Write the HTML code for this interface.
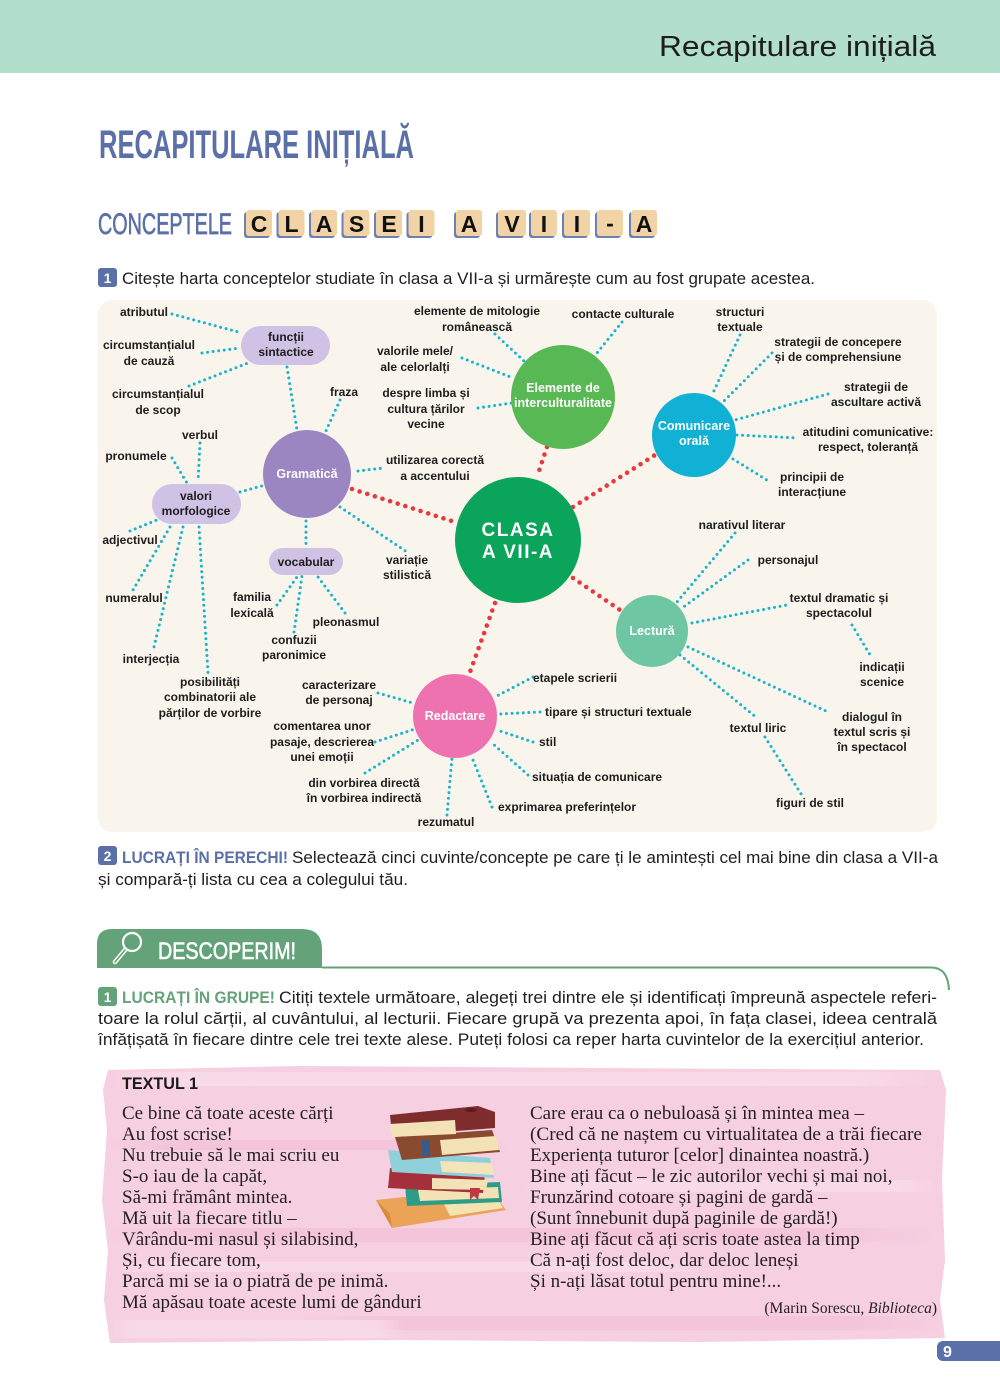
<!DOCTYPE html>
<html><head><meta charset="utf-8"><style>
html,body{margin:0;padding:0;background:#fff;}
body{width:1000px;height:1390px;overflow:hidden;}
svg{display:block;}
.lb{font-family:"Liberation Sans",sans-serif;font-weight:bold;font-size:12px;fill:#1c1c1c;}
.cw{font-family:"Liberation Sans",sans-serif;font-weight:bold;font-size:12.5px;fill:#fff;}
.sans{font-family:"Liberation Sans",sans-serif;}
.ser{font-family:"Liberation Serif",serif;font-size:19px;fill:#231f20;}
.cy{stroke:#1ab3cc;stroke-width:3;stroke-linecap:round;stroke-dasharray:0 5.6;fill:none;}
.rd{stroke:#e5393e;stroke-width:4.6;stroke-linecap:round;stroke-dasharray:0 8;fill:none;}
</style></head><body>
<svg width="1000" height="1390" viewBox="0 0 1000 1390" xmlns="http://www.w3.org/2000/svg">
<defs>
<linearGradient id="fadeL" x1="0" x2="1" y1="0" y2="0">
<stop offset="0" stop-color="#f9dde9" stop-opacity="0"/>
<stop offset="0.1" stop-color="#f9dde9" stop-opacity="0.8"/>
<stop offset="0.9" stop-color="#f9dde9" stop-opacity="0.8"/>
<stop offset="1" stop-color="#f9dde9" stop-opacity="0"/>
</linearGradient>
<linearGradient id="fadeD" x1="0" x2="1" y1="0" y2="0">
<stop offset="0" stop-color="#f1bdd5" stop-opacity="0"/>
<stop offset="0.15" stop-color="#f1bdd5" stop-opacity="0.6"/>
<stop offset="0.85" stop-color="#f1bdd5" stop-opacity="0.6"/>
<stop offset="1" stop-color="#f1bdd5" stop-opacity="0"/>
</linearGradient>
</defs>
<!-- header -->
<rect x="0" y="0" width="1000" height="73" fill="#b1dfcb"/>
<text x="659" y="56" class="sans" font-size="29" fill="#1e1e1e" textLength="277" lengthAdjust="spacingAndGlyphs">Recapitulare inițială</text>

<!-- title -->
<text x="99" y="158" class="sans" font-weight="bold" font-size="40" fill="#5b6fa8" textLength="315" lengthAdjust="spacingAndGlyphs">RECAPITULARE INIȚIALĂ</text>
<text x="98" y="234" class="sans" font-size="30" fill="#5b6fa8" stroke="#5b6fa8" stroke-width="0.7" textLength="134" lengthAdjust="spacingAndGlyphs">CONCEPTELE</text>

<!-- tiles -->
<g class="sans" font-weight="bold" font-size="23" fill="#111" text-anchor="middle">
<g transform="translate(246,210)"><rect x="-2" y="2" width="26" height="26" rx="3" fill="#6c80b4"/><rect x="0" y="0" width="26" height="26" rx="3" fill="#f2d3a6"/><text x="13" y="22">C</text></g>
<g transform="translate(278.5,210)"><rect x="-2" y="2" width="26" height="26" rx="3" fill="#6c80b4"/><rect x="0" y="0" width="26" height="26" rx="3" fill="#f2d3a6"/><text x="13" y="22">L</text></g>
<g transform="translate(311,210)"><rect x="-2" y="2" width="26" height="26" rx="3" fill="#6c80b4"/><rect x="0" y="0" width="26" height="26" rx="3" fill="#f2d3a6"/><text x="13" y="22">A</text></g>
<g transform="translate(343.5,210)"><rect x="-2" y="2" width="26" height="26" rx="3" fill="#6c80b4"/><rect x="0" y="0" width="26" height="26" rx="3" fill="#f2d3a6"/><text x="13" y="22">S</text></g>
<g transform="translate(376,210)"><rect x="-2" y="2" width="26" height="26" rx="3" fill="#6c80b4"/><rect x="0" y="0" width="26" height="26" rx="3" fill="#f2d3a6"/><text x="13" y="22">E</text></g>
<g transform="translate(408.5,210)"><rect x="-2" y="2" width="26" height="26" rx="3" fill="#6c80b4"/><rect x="0" y="0" width="26" height="26" rx="3" fill="#f2d3a6"/><text x="13" y="22">I</text></g>
<g transform="translate(456,210)"><rect x="-2" y="2" width="26" height="26" rx="3" fill="#6c80b4"/><rect x="0" y="0" width="26" height="26" rx="3" fill="#f2d3a6"/><text x="13" y="22">A</text></g>
<g transform="translate(498,210)"><rect x="-2" y="2" width="28" height="26" rx="3" fill="#6c80b4"/><rect x="0" y="0" width="28" height="26" rx="3" fill="#f2d3a6"/><text x="14" y="22">V</text></g>
<g transform="translate(531,210)"><rect x="-2" y="2" width="26" height="26" rx="3" fill="#6c80b4"/><rect x="0" y="0" width="26" height="26" rx="3" fill="#f2d3a6"/><text x="13" y="22">I</text></g>
<g transform="translate(564,210)"><rect x="-2" y="2" width="26" height="26" rx="3" fill="#6c80b4"/><rect x="0" y="0" width="26" height="26" rx="3" fill="#f2d3a6"/><text x="13" y="22">I</text></g>
<g transform="translate(597,210)"><rect x="-2" y="2" width="26" height="26" rx="3" fill="#6c80b4"/><rect x="0" y="0" width="26" height="26" rx="3" fill="#f2d3a6"/><text x="13" y="21">-</text></g>
<g transform="translate(631,210)"><rect x="-2" y="2" width="26" height="26" rx="3" fill="#6c80b4"/><rect x="0" y="0" width="26" height="26" rx="3" fill="#f2d3a6"/><text x="13" y="22">A</text></g>
</g>

<!-- task 1 -->
<rect x="98" y="268" width="19" height="19" rx="3" fill="#5b6fa8"/>
<text x="107.5" y="283" class="sans" font-weight="bold" font-size="14" fill="#fff" text-anchor="middle">1</text>
<text x="122" y="284" class="sans" font-size="17" fill="#1e1e1e" textLength="693" lengthAdjust="spacingAndGlyphs">Citește harta conceptelor studiate în clasa a VII-a și urmărește cum au fost grupate acestea.</text>

<!-- map panel -->
<rect x="98" y="300" width="839" height="532" rx="14" fill="#f9f5ed"/>

<!-- cyan connectors -->
<g class="cy">
<path d="M172,314L242,333"/><path d="M202,353L240,348"/><path d="M189,386L248,363"/>
<path d="M287,367L297,430"/><path d="M340,400L325,433"/><path d="M200,443L198,482"/>
<path d="M172,458L187,483"/><path d="M240,492L265,485"/><path d="M358,471L383,468"/>
<path d="M340,507L407,552"/><path d="M306,521L306,548"/><path d="M130,531L157,520"/>
<path d="M170,527L133,590"/><path d="M183,527L153,651"/><path d="M199,527L208,673"/>
<path d="M277,605L297,577"/><path d="M294,632L302,576"/><path d="M345,613L318,577"/>
<path d="M495,334L525,362"/><path d="M462,358L513,378"/><path d="M478,408L512,403"/>
<path d="M622,322L597,353"/><path d="M740,335L712,395"/><path d="M772,353L723,402"/>
<path d="M828,394L735,420"/><path d="M737,435L798,438"/><path d="M733,459L770,482"/>
<path d="M735,533L677,602"/><path d="M748,560L682,608"/><path d="M692,623L787,605"/>
<path d="M852,625L872,658"/><path d="M688,647L828,712"/><path d="M680,655L757,718"/>
<path d="M765,737L803,797"/><path d="M378,693L413,703"/><path d="M375,742L415,729"/>
<path d="M365,773L418,740"/><path d="M447,815L452,758"/><path d="M492,807L473,760"/>
<path d="M528,775L492,743"/><path d="M533,742L497,730"/><path d="M540,712L500,714"/>
<path d="M533,677L497,696"/>
</g>
<!-- red connectors -->
<g class="rd">
<path d="M352,489L458,523"/><path d="M547,447L537,477"/><path d="M573,507L655,455"/>
<path d="M573,578L620,610"/><path d="M495,603L470,672"/>
</g>

<!-- nodes -->
<circle cx="518" cy="540" r="63" fill="#0aa45a"/>
<circle cx="307" cy="474" r="44" fill="#9c86c2"/>
<circle cx="563" cy="397" r="52" fill="#58b853"/>
<circle cx="694" cy="435" r="42" fill="#10b1d4"/>
<circle cx="652" cy="631" r="36" fill="#6fc6a2"/>
<circle cx="455" cy="716" r="42" fill="#ef72b0"/>
<rect x="241" y="326" width="89" height="39" rx="19.5" fill="#d0c2e4"/>
<rect x="152" y="484" width="89" height="40" rx="20" fill="#d0c2e4"/>
<rect x="269" y="548" width="74" height="27" rx="13.5" fill="#d0c2e4"/>

<text x="518" y="536" class="sans" font-weight="bold" font-size="19" fill="#fff" text-anchor="middle" letter-spacing="1.5">CLASA</text>
<text x="518" y="558" class="sans" font-weight="bold" font-size="19" fill="#fff" text-anchor="middle" letter-spacing="1.5">A VII-A</text>
<g class="cw" text-anchor="middle">
<text x="307" y="478">Gramatică</text>
<text x="563" y="392">Elemente de</text>
<text x="563" y="407">interculturalitate</text>
<text x="694" y="430">Comunicare</text>
<text x="694" y="445">orală</text>
<text x="652" y="635">Lectură</text>
<text x="455" y="720">Redactare</text>
</g>
<g class="lb" text-anchor="middle">
<text x="286" y="341">funcții</text><text x="286" y="356">sintactice</text>
<text x="196" y="500">valori</text><text x="196" y="515">morfologice</text>
<text x="306" y="566">vocabular</text>

<text x="144" y="316">atributul</text>
<text x="149" y="349">circumstanțialul</text><text x="149" y="365">de cauză</text>
<text x="158" y="398">circumstanțialul</text><text x="158" y="414">de scop</text>
<text x="344" y="396">fraza</text>
<text x="200" y="439">verbul</text>
<text x="136" y="460">pronumele</text>
<text x="130" y="544">adjectivul</text>
<text x="134" y="602">numeralul</text>
<text x="151" y="663">interjecția</text>
<text x="210" y="686">posibilități</text><text x="210" y="701">combinatorii ale</text><text x="210" y="717">părților de vorbire</text>
<text x="435" y="464">utilizarea corectă</text><text x="435" y="480">a accentului</text>
<text x="407" y="564">variație</text><text x="407" y="579">stilistică</text>
<text x="252" y="601">familia</text><text x="252" y="617">lexicală</text>
<text x="294" y="644">confuzii</text><text x="294" y="659">paronimice</text>
<text x="346" y="626">pleonasmul</text>
<text x="477" y="315">elemente de mitologie</text><text x="477" y="331">românească</text>
<text x="415" y="355">valorile mele/</text><text x="415" y="371">ale celorlalți</text>
<text x="426" y="397">despre limba și</text><text x="426" y="413">cultura țărilor</text><text x="426" y="428">vecine</text>
<text x="623" y="318">contacte culturale</text>
<text x="740" y="316">structuri</text><text x="740" y="331">textuale</text>
<text x="838" y="346">strategii de concepere</text><text x="838" y="361">și de comprehensiune</text>
<text x="876" y="391">strategii de</text><text x="876" y="406">ascultare activă</text>
<text x="868" y="436">atitudini comunicative:</text><text x="868" y="451">respect, toleranță</text>
<text x="812" y="481">principii de</text><text x="812" y="496">interacțiune</text>
<text x="742" y="529">narativul literar</text>
<text x="788" y="564">personajul</text>
<text x="839" y="602">textul dramatic și</text><text x="839" y="617">spectacolul</text>
<text x="882" y="671">indicații</text><text x="882" y="686">scenice</text>
<text x="872" y="721">dialogul în</text><text x="872" y="736">textul scris și</text><text x="872" y="751">în spectacol</text>
<text x="758" y="732">textul liric</text>
<text x="810" y="807">figuri de stil</text>
<text x="339" y="689">caracterizare</text><text x="339" y="704">de personaj</text>
<text x="322" y="730">comentarea unor</text><text x="322" y="746">pasaje, descrierea</text><text x="322" y="761">unei emoții</text>
<text x="364" y="787">din vorbirea directă</text><text x="364" y="802">în vorbirea indirectă</text>
<text x="446" y="826">rezumatul</text>
</g>
<g class="lb">
<text x="498" y="811">exprimarea preferințelor</text>
<text x="532" y="781">situația de comunicare</text>
<text x="539" y="746">stil</text>
<text x="545" y="716">tipare și structuri textuale</text>
<text x="533" y="682">etapele scrierii</text>
</g>

<!-- task 2 -->
<rect x="98" y="846" width="19" height="19" rx="3" fill="#5b6fa8"/>
<text x="107.5" y="861" class="sans" font-weight="bold" font-size="14" fill="#fff" text-anchor="middle">2</text>
<text x="122" y="863" class="sans" font-weight="bold" font-size="17" fill="#5b6fa8" textLength="166" lengthAdjust="spacingAndGlyphs">LUCRAȚI ÎN PERECHI!</text>
<text x="292" y="863" class="sans" font-size="17" fill="#1e1e1e" textLength="646" lengthAdjust="spacingAndGlyphs">Selectează cinci cuvinte/concepte pe care ți le amintești cel mai bine din clasa a VII-a</text>
<text x="98" y="885" class="sans" font-size="17" fill="#1e1e1e" textLength="310" lengthAdjust="spacingAndGlyphs">și compară-ți lista cu cea a colegului tău.</text>

<!-- DESCOPERIM -->
<path d="M97,968 V944 Q97,929 112,929 H302 Q322,929 322,949 V968 Z" fill="#64a279"/>
<path d="M322,967.5 H932 Q948,968 949,990" stroke="#64a279" stroke-width="2" fill="none"/>
<circle cx="132" cy="942" r="9" fill="none" stroke="#fff" stroke-width="2.2"/>
<path d="M125,950 L115,962" stroke="#fff" stroke-width="4.5" stroke-linecap="round"/>
<path d="M125,950 L115,962" stroke="#64a279" stroke-width="1.6" stroke-linecap="round"/>
<text x="158" y="959" class="sans" font-size="24" fill="#fff" stroke="#fff" stroke-width="0.6" textLength="138" lengthAdjust="spacingAndGlyphs">DESCOPERIM!</text>

<rect x="98" y="987" width="19" height="19" rx="3" fill="#64a279"/>
<text x="107.5" y="1002" class="sans" font-weight="bold" font-size="14" fill="#fff" text-anchor="middle">1</text>
<text x="122" y="1003" class="sans" font-weight="bold" font-size="17" fill="#64a279" textLength="153" lengthAdjust="spacingAndGlyphs">LUCRAȚI ÎN GRUPE!</text>
<text x="279" y="1003" class="sans" font-size="17" fill="#1e1e1e" textLength="658" lengthAdjust="spacingAndGlyphs">Citiți textele următoare, alegeți trei dintre ele și identificați împreună aspectele referi-</text>
<text x="98" y="1024" class="sans" font-size="17" fill="#1e1e1e" textLength="839" lengthAdjust="spacingAndGlyphs">toare la rolul cărții, al cuvântului, al lecturii. Fiecare grupă va prezenta apoi, în fața clasei, ideea centrală</text>
<text x="98" y="1045" class="sans" font-size="17" fill="#1e1e1e" textLength="826" lengthAdjust="spacingAndGlyphs">înfățișată în fiecare dintre cele trei texte alese. Puteți folosi ca reper harta cuvintelor de la exercițiul anterior.</text>

<!-- pink brush background -->
<path d="M108,1070 L300,1066 L600,1068 L940,1070 L946,1090 L942,1180 L945,1260 L940,1300 L945,1338 L700,1342 L400,1340 L110,1343 L104,1300 L108,1250 L102,1200 L107,1130 L103,1090 Z" fill="#f6cfe1"/>
<rect x="106" y="1072" width="835" height="14" fill="url(#fadeL)"/>
<rect x="110" y="1140" width="400" height="10" fill="url(#fadeD)"/>
<rect x="520" y="1180" width="420" height="12" fill="url(#fadeL)"/>
<rect x="106" y="1228" width="830" height="14" fill="url(#fadeD)"/>
<rect x="108" y="1262" width="600" height="10" fill="url(#fadeL)"/>
<rect x="300" y="1316" width="640" height="14" fill="url(#fadeD)"/>
<rect x="106" y="1320" width="300" height="18" fill="url(#fadeL)"/>

<text x="122" y="1089" class="sans" font-weight="bold" font-size="17" fill="#1a1a1a" textLength="76" lengthAdjust="spacingAndGlyphs">TEXTUL 1</text>

<!-- books -->
<g>
<polygon points="376,1200 490,1188 506,1210 392,1228" fill="#eba457"/>
<polygon points="440,1196 492,1190 503,1208 450,1216" fill="#f6e3b4"/>
<polygon points="376,1200 392,1228 390,1214" fill="#d98a3e"/>
<polygon points="405,1186 500,1182 502,1202 407,1206" fill="#2f9c87"/>
<polygon points="418,1190 498,1187 499,1198 420,1201" fill="#f3e2b6"/>
<polygon points="390,1168 485,1174 483,1193 388,1188" fill="#a52f3a"/>
<polygon points="432,1178 488,1180 486,1190 432,1189" fill="#f3e2b6"/>
<polygon points="470,1188 480,1188 478,1200 474,1196 470,1200" fill="#c23844"/>
<polygon points="388,1150 490,1158 494,1178 392,1172" fill="#8fd0da"/>
<polygon points="440,1161 492,1163 494,1175 442,1172" fill="#f3e4bb"/>
<polygon points="395,1137 492,1130 500,1152 402,1160" fill="#8a4a2f"/>
<polygon points="440,1140 496,1136 499,1150 442,1155" fill="#f3e2b6"/>
<rect x="422" y="1140" width="8" height="16" fill="#3a5b8a"/>
<polygon points="390,1115 478,1106 495,1112 495,1128 392,1136" fill="#7e2c2c"/>
<polygon points="390,1124 455,1120 456,1134 392,1137" fill="#f3e2b6"/>
<ellipse cx="471" cy="1110" rx="6" ry="2" fill="#5a1e1e"/>
</g>

<!-- poem left -->
<g class="ser">
<text x="122" y="1119">Ce bine că toate aceste cărți</text>
<text x="122" y="1140">Au fost scrise!</text>
<text x="122" y="1161">Nu trebuie să le mai scriu eu</text>
<text x="122" y="1182">S-o iau de la capăt,</text>
<text x="122" y="1203">Să-mi frământ mintea.</text>
<text x="122" y="1224">Mă uit la fiecare titlu –</text>
<text x="122" y="1245">Vârându-mi nasul și silabisind,</text>
<text x="122" y="1266">Și, cu fiecare tom,</text>
<text x="122" y="1287">Parcă mi se ia o piatră de pe inimă.</text>
<text x="122" y="1308">Mă apăsau toate aceste lumi de gânduri</text>
</g>
<g class="ser">
<text x="530" y="1119">Care erau ca o nebuloasă și în mintea mea –</text>
<text x="530" y="1140" textLength="392" lengthAdjust="spacingAndGlyphs">(Cred că ne naștem cu virtualitatea de a trăi fiecare</text>
<text x="530" y="1161">Experiența tuturor [celor] dinaintea noastră.)</text>
<text x="530" y="1182">Bine ați făcut – le zic autorilor vechi și mai noi,</text>
<text x="530" y="1203">Frunzărind cotoare și pagini de gardă –</text>
<text x="530" y="1224">(Sunt înnebunit după paginile de gardă!)</text>
<text x="530" y="1245">Bine ați făcut că ați scris toate astea la timp</text>
<text x="530" y="1266">Că n-ați fost deloc, dar deloc leneși</text>
<text x="530" y="1287">Și n-ați lăsat totul pentru mine!...</text>
</g>
<text x="937" y="1313" font-size="15.5" fill="#231f20" text-anchor="end" style="font-family:'Liberation Serif',serif">(Marin Sorescu, <tspan font-style="italic">Biblioteca</tspan>)</text>

<!-- page number -->
<rect x="937" y="1341" width="80" height="20" rx="6" fill="#5b6fa8"/>
<text x="943" y="1357" class="sans" font-weight="bold" font-size="16" fill="#fff">9</text>
</svg>
</body></html>
